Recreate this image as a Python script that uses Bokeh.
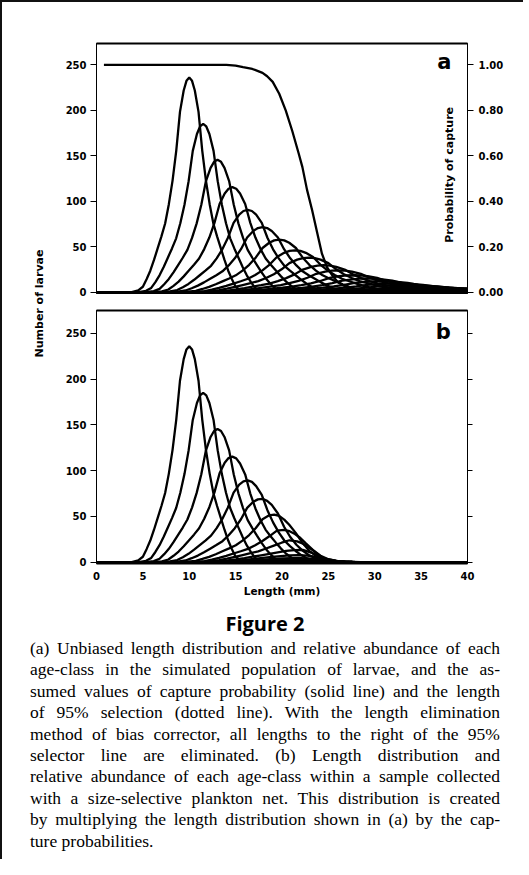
import numpy as np
from bokeh.plotting import figure
from bokeh.models import (LinearAxis, Range1d, FixedTicker, Label, Div,
                          NumeralTickFormatter, CustomJSTickFormatter)
from bokeh.layouts import column, row
from bokeh.embed import file_html
from bokeh.resources import INLINE

# ---------------- data ----------------
# age classes: modal length (mm), modal number of larvae, relative spread
peak_length = [10.0, 11.5, 13.05, 14.65, 16.3, 17.9, 19.7, 21.4, 22.9, 24.5,
               26.1, 27.7, 29.2, 30.7, 32.2, 33.6, 35.0, 36.4, 37.7, 39.0]
peak_count = [236, 185, 145.5, 115.5, 90.6, 71.6, 57.8, 46, 38, 29.6,
              24, 18.6, 15, 12, 9.5, 7.6, 6.0, 4.8, 3.8, 3.0]
spread = [1.0, 1.12, 1.25, 1.38, 1.52, 1.66, 1.8, 1.95, 2.1, 2.25,
          2.4, 2.55, 2.7, 2.85, 3.0, 3.15, 3.3, 3.45, 3.6, 3.75]
# shape of one age-class curve (first class): offset from mode (mm), fraction of mode
profile_offset = [-6.2, -5.5, -5.0, -4.6, -4.2, -3.8, -3.4, -3.0, -2.6, -2.2, -1.8, -1.4, -1.0,
                  -0.6, -0.3, 0.0, 0.3, 0.6, 1.0, 1.4, 1.8, 2.2, 2.6, 3.0, 3.4, 3.8, 4.2,
                  4.6, 5.0, 5.5, 6.2]
profile_value = [0.0, 0.008, 0.025, 0.06, 0.10, 0.15, 0.205, 0.26, 0.32, 0.41, 0.52, 0.66, 0.84,
                 0.94, 0.985, 1.0, 0.985, 0.94, 0.84, 0.66, 0.52, 0.41, 0.32, 0.26, 0.205, 0.15,
                 0.10, 0.06, 0.025, 0.008, 0.0]
# capture probability (solid line)
capture_length = [0.8, 14.0, 15.0, 15.8, 16.8, 17.9, 18.4, 19.0, 19.7, 20.4, 21.1, 21.8,
                  22.2, 22.7, 23.25, 23.8, 24.3, 24.85, 25.4, 26.0, 27.0, 28.5, 40.0]
capture_prob = [1.0, 1.0, 0.997, 0.99, 0.982, 0.965, 0.95, 0.925, 0.873, 0.80, 0.71, 0.61,
                0.55, 0.45, 0.36, 0.26, 0.17, 0.11, 0.075, 0.045, 0.02, 0.005, 0.0]

length_ticks = [0, 5, 10, 15, 20, 25, 30, 35, 40]
count_ticks = [0, 50, 100, 150, 200, 250]
prob_ticks = [0.0, 0.2, 0.4, 0.6, 0.8, 1.0]

x_label = "Length (mm)"
y_label = "Number of larvae"
y2_label = "Probability of capture"

caption_title = "Figure 2"
caption_lines = [
    "(a) Unbiased length distribution and relative abundance of each",
    "age-class in the simulated population of larvae, and the as-",
    "sumed values of capture probability (solid line) and the length",
    "of 95% selection (dotted line). With the length elimination",
    "method of bias corrector, all lengths to the right of the 95%",
    "selector line are eliminated. (b) Length distribution and",
    "relative abundance of each age-class within a sample collected",
    "with a size-selective plankton net. This distribution is created",
    "by multiplying the length distribution shown in (a) by the cap-",
    "ture probabilities.",
]

FONT = "DejaVu Sans"
LW = 2.3
XMAX = 40.0


def class_curve(k):
    xs = [peak_length[k] + o * spread[k] for o in profile_offset]
    ys = [peak_count[k] * v for v in profile_value]
    if xs[0] > 0:
        xs = [0.0] + xs
        ys = [0.0] + ys
    if xs[-1] < XMAX:
        xs = xs + [XMAX]
        ys = ys + [0.0]
    return np.array(xs), np.array(ys)


def style_axis(ax, tick_out=6, standoff=4, line_width=1):
    ax.axis_line_color = "black"
    ax.axis_line_width = line_width
    ax.major_tick_line_color = "black"
    ax.major_tick_line_width = 1
    ax.major_tick_out = tick_out
    ax.major_tick_in = 0
    ax.minor_tick_line_color = None
    ax.major_label_text_font = FONT
    ax.major_label_text_font_style = "bold"
    ax.major_label_text_font_size = "10px"
    ax.major_label_text_color = "black"
    ax.major_label_standoff = standoff
    ax.axis_label_text_font = FONT
    ax.axis_label_text_font_style = "bold"
    ax.axis_label_text_font_size = "10.5px"
    ax.axis_label_text_color = "black"


def top_line(fig):
    ax = LinearAxis(ticker=FixedTicker(ticks=[]))
    ax.axis_line_width = 2
    ax.axis_line_color = "black"
    ax.major_tick_line_color = None
    ax.minor_tick_line_color = None
    ax.major_label_text_font_size = "0px"
    ax.major_label_standoff = 0
    fig.add_layout(ax, "above")


def base_fig(width, height, ymax, left, right, top, bottom, xaxis):
    f = figure(width=width, height=height, x_range=Range1d(0, XMAX),
               y_range=Range1d(-1.5, ymax), output_backend="svg",
               toolbar_location=None, x_axis_location=("below" if xaxis else None),
               min_border_left=left, min_border_right=right,
               min_border_top=top, min_border_bottom=bottom)
    f.xgrid.grid_line_color = None
    f.ygrid.grid_line_color = None
    f.outline_line_color = "black"
    f.outline_line_width = 1
    f.background_fill_color = "white"
    f.border_fill_color = "white"
    ly = f.left[0]
    ly.ticker = FixedTicker(ticks=count_ticks)
    style_axis(ly, tick_out=6, standoff=4)
    if xaxis:
        bx = f.below[0]
        bx.ticker = FixedTicker(ticks=length_ticks)
        style_axis(bx, tick_out=0, standoff=8, line_width=2)
    return f


# ---------------- panel a ----------------
fa = base_fig(461, 298, 273.5, 40, 46, 41, 7, False)
fa.extra_y_ranges = {"prob": Range1d(-1.5 / 250, 273.5 / 250)}
ra = LinearAxis(y_range_name="prob", ticker=FixedTicker(ticks=prob_ticks),
                formatter=NumeralTickFormatter(format="0.00"))
style_axis(ra, tick_out=6, standoff=5)
fa.add_layout(ra, "right")
top_line(fa)

for k in range(len(peak_length)):
    xs, ys = class_curve(k)
    fa.line(xs, ys, line_color="black", line_width=LW)
fa.line(capture_length, capture_prob, y_range_name="prob", line_color="black", line_width=LW)

fa.add_layout(Label(x=37.5, y=253.5, text="a", text_font=FONT, text_font_style="bold",
                    text_font_size="21px", text_align="center", text_baseline="middle",
                    text_color="black"))
fa.add_layout(Label(x=38.08, y=129, text=y2_label, angle=np.pi / 2, text_font=FONT,
                    text_font_style="bold", text_font_size="11px", text_align="center",
                    text_baseline="middle", text_color="black"))

# ---------------- panel b ----------------
fb = base_fig(461, 299, 275.0, 44, 42, 10, 36, True)
bxa = fb.below[0]
bxa.axis_label = x_label
bxa.axis_label_standoff = 2
rb = LinearAxis(ticker=FixedTicker(ticks=count_ticks),
                formatter=CustomJSTickFormatter(code="return ''"))
style_axis(rb, tick_out=5, standoff=0)
fb.add_layout(rb, "right")
top_line(fb)

for k in range(len(peak_length)):
    xs, ys = class_curve(k)
    yb = ys * np.interp(xs, capture_length, capture_prob)
    fb.line(xs, yb, line_color="black", line_width=LW)

fb.add_layout(Label(x=37.4, y=252, text="b", text_font=FONT, text_font_style="bold",
                    text_font_size="21px", text_align="center", text_baseline="middle",
                    text_color="black"))

# ---------------- shared y label ----------------
fl = figure(width=50, height=597, x_range=Range1d(0, 50), y_range=Range1d(0, 597),
            output_backend="svg", toolbar_location=None, min_border=0,
            x_axis_location=None, y_axis_location=None)
fl.outline_line_color = None
fl.xgrid.grid_line_color = None
fl.ygrid.grid_line_color = None
fl.border_fill_color = "white"
fl.add_layout(Label(x=37, y=296, text=y_label, angle=np.pi / 2, text_font=FONT,
                    text_font_style="bold", text_font_size="11px", text_align="center",
                    text_baseline="middle", text_color="black"))

# ---------------- caption ----------------
html = ('<div style="width:470px;margin-left:23px;font-family:\'Liberation Serif\',serif;'
        'font-size:17.5px;line-height:21.4px;color:#000;">')
html += ('<div style="text-align:center;font-family:\'Open Sans\',sans-serif;font-weight:bold;'
         'font-size:20px;line-height:26px;margin-top:7px;margin-bottom:1px;">'
         + caption_title + '</div>')
for i, ln in enumerate(caption_lines):
    if i < len(caption_lines) - 1:
        words = ln.split(" ")
        html += ('<div style="display:flex;justify-content:space-between;white-space:nowrap;">'
                 + "".join("<span>" + w + "</span>" for w in words) + '</div>')
    else:
        html += '<div style="text-align:left;white-space:nowrap;">' + ln + '</div>'
html += '</div>'
cap = Div(text=html, width=511, height=250)

layout = column(row(fl, column(fa, fb)), cap,
                styles={"border-left": "2px solid #111", "border-top": "2px solid #111"})

open("out.html", "w").write(file_html(layout, INLINE))
